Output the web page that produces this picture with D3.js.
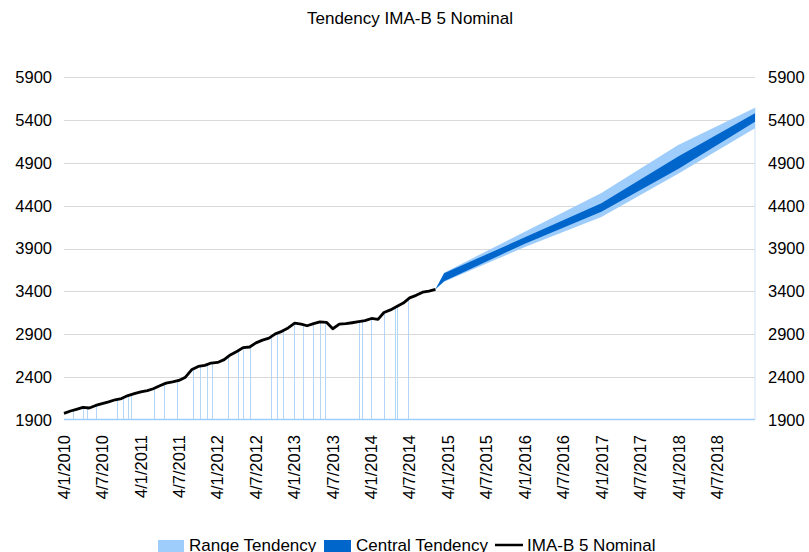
<!DOCTYPE html>
<html>
<head>
	<meta charset="utf-8">
	<script src="https://cdnjs.cloudflare.com/ajax/libs/d3/7.8.5/d3.min.js"></script>
	<style>
	body {
		margin: 0;
		background: #fff;
	}

	svg {
		display: block;
		font-family: "Liberation Sans", Arial, sans-serif;
	}

	.grid line {
		stroke: #d9d9d9;
		stroke-width: 1px;
	}

	.spike {
		stroke: #b4d6f7;
		stroke-width: 1px;
	}

	.imab {
		fill: none;
		stroke: #000;
		stroke-width: 2.8px;
		stroke-linejoin: round;
	}
</style>
</head>
<body>
	<svg width="809" height="552"></svg>
	<script>
	//IMA-B 5 history, one value per month starting 4/1/2010
	let imabStart = "2010-01-04";
	let imabValues = [
		1978, 2005, 2025, 2048, 2040, 2070, 2092, 2112, 2136, 2150, 2185, 2207,
		2228, 2242, 2265, 2300, 2330, 2345, 2362, 2400, 2490, 2525, 2538, 2565,
		2572, 2605, 2660, 2700, 2745, 2752, 2800, 2832, 2855, 2905, 2935, 2975,
		3030, 3020, 3000, 3025, 3045, 3040, 2965, 3020, 3025, 3035, 3047, 3060,
		3085, 3075, 3155, 3185, 3225, 3265, 3325, 3355, 3392, 3405, 3425
	];

	//tendency bands
	let forecastDates = ["2014-11-04", "2014-12-15", "2015-12-31", "2016-12-31", "2017-12-31", "2018-12-31"];
	let rangeHigh   = [3425, 3620, 4095, 4550, 5110, 5545];
	let centralHigh = [3425, 3612, 4030, 4430, 4975, 5480];
	let centralLow  = [3425, 3520, 3955, 4330, 4830, 5382];
	let rangeLow    = [3425, 3515, 3915, 4270, 4775, 5305];

	//stray range points showing as thin drops to the baseline
	let spikeDates = ["2010-02-14", "2010-04-06", "2010-04-25", "2010-06-05", "2010-09-11", "2010-10-13",
		"2010-11-05", "2010-11-17", "2011-03-09", "2011-04-25", "2011-06-26", "2011-09-10", "2011-10-12",
		"2011-11-13", "2011-12-07", "2012-02-21", "2012-04-11", "2012-05-05", "2012-06-06", "2012-09-12",
		"2012-10-13", "2012-11-08", "2013-01-02", "2013-02-14", "2013-04-02", "2013-05-04", "2013-05-28",
		"2013-11-05", "2013-11-21", "2014-01-01", "2014-03-06", "2014-04-25", "2014-05-03", "2014-06-25"];
	let spikeValues = [2010, 2048, 2042, 2072, 2145, 2175, 2190, 2200, 2270, 2315, 2355, 2500, 2530,
		2545, 2565, 2630, 2700, 2740, 2745, 2860, 2905, 2935, 3020, 3010, 3025, 3050, 3040,
		3050, 3055, 3085, 3150, 3210, 3220, 3310];

	//axis ticks
	let tickDates = ["2010-01-04", "2010-07-04", "2011-01-04", "2011-07-04", "2012-01-04", "2012-07-04",
		"2013-01-04", "2013-07-04", "2014-01-04", "2014-07-04", "2015-01-04", "2015-07-04",
		"2016-01-04", "2016-07-04", "2017-01-04", "2017-07-04", "2018-01-04", "2018-07-04"];
	let yTicks = [1900, 2400, 2900, 3400, 3900, 4400, 4900, 5400, 5900];

	let svg = d3.select("svg");
	let parseDate = d3.timeParse("%Y-%m-%d"),
		formatDate = d3.timeFormat("%-d/%-m/%Y");

	let light = "#9fcdfb",
		dark = "#0066cc";

	//scales
	let x = d3.scaleTime()
		.domain([parseDate("2010-01-04"), parseDate("2018-12-31")])
		.range([64, 755]);
	let y = d3.scaleLinear()
		.domain([1900, 5900])
		.range([420, 77.3]);

	//build series
	let imab = imabValues.map(function(v, i) {
		return {date: d3.timeMonth.offset(parseDate(imabStart), i), value: v};
	});
	let bands = forecastDates.map(function(d, i) {
		return {date: parseDate(d), rl: rangeLow[i], rh: rangeHigh[i], cl: centralLow[i], ch: centralHigh[i]};
	});
	let spikes = spikeDates.map(function(d, i) {
		return {date: parseDate(d), value: spikeValues[i]};
	});

	//gridlines
	svg.append("g")
		.attr("class", "grid")
		.selectAll("line")
		.data(yTicks.slice(1))
		.enter()
		.append("line")
		.attr("x1", x.range()[0])
		.attr("x2", x.range()[1])
		.attr("y1", function(d) { return Math.round(y(d)) + 0.5; })
		.attr("y2", function(d) { return Math.round(y(d)) + 0.5; });

	//spikes
	svg.append("g")
		.selectAll("line")
		.data(spikes)
		.enter()
		.append("line")
		.attr("class", "spike")
		.attr("x1", function(d) { return Math.round(x(d.date)) + 0.5; })
		.attr("x2", function(d) { return Math.round(x(d.date)) + 0.5; })
		.attr("y1", y(1900))
		.attr("y2", function(d) { return y(d.value); });

	//baseline of the range area
	svg.append("line")
		.attr("x1", x.range()[0])
		.attr("x2", x.range()[1])
		.attr("y1", y(1900) - 0.5)
		.attr("y2", y(1900) - 0.5)
		.style("stroke", light)
		.style("stroke-width", 1.5);

	//right edge of the range area
	let last = bands[bands.length - 1];
	svg.append("line")
		.attr("x1", x(last.date))
		.attr("x2", x(last.date))
		.attr("y1", y(last.rh))
		.attr("y2", y(1900))
		.style("stroke", "#cfe3f7")
		.style("stroke-width", 1);

	//range tendency
	let rangeArea = d3.area()
		.x(function(d) { return x(d.date); })
		.y0(function(d) { return y(d.rl); })
		.y1(function(d) { return y(d.rh); });
	svg.append("path")
		.datum(bands)
		.attr("d", rangeArea)
		.style("fill", light);

	//central tendency
	let centralArea = d3.area()
		.x(function(d) { return x(d.date); })
		.y0(function(d) { return y(d.cl); })
		.y1(function(d) { return y(d.ch); });
	svg.append("path")
		.datum(bands)
		.attr("d", centralArea)
		.style("fill", dark);

	//IMA-B 5 line
	let line = d3.line()
		.x(function(d) { return x(d.date); })
		.y(function(d) { return y(d.value); });
	svg.append("path")
		.datum(imab)
		.attr("class", "imab")
		.attr("d", line);

	//left and right value axes
	[{x: 52, anchor: "end"}, {x: 768, anchor: "start"}].forEach(function(side) {
		svg.append("g")
			.selectAll("text")
			.data(yTicks)
			.enter()
			.append("text")
			.attr("x", side.x)
			.attr("y", function(d) { return y(d); })
			.attr("dy", "0.35em")
			.attr("text-anchor", side.anchor)
			.style("font-size", "16.5px")
			.style("fill", "#000")
			.text(function(d) { return d; });
	});

	//date labels
	svg.append("g")
		.selectAll("text")
		.data(tickDates)
		.enter()
		.append("text")
		.attr("transform", function(d) { return "translate(" + x(parseDate(d)) + ",435) rotate(-90)"; })
		.attr("dy", "0.35em")
		.attr("text-anchor", "end")
		.style("font-size", "16.5px")
		.text(function(d) { return formatDate(parseDate(d)); });

	//title
	svg.append("text")
		.attr("x", 410)
		.attr("y", 24)
		.attr("text-anchor", "middle")
		.style("font-size", "17px")
		.text("Tendency IMA-B 5 Nominal");

	//legend
	let legend = svg.append("g").style("font-size", "17px");
	legend.append("rect").attr("x", 158).attr("y", 540).attr("width", 26).attr("height", 12).style("fill", light);
	legend.append("text").attr("x", 189).attr("y", 551).text("Range Tendency");
	legend.append("rect").attr("x", 324).attr("y", 540).attr("width", 27).attr("height", 12).style("fill", dark);
	legend.append("text").attr("x", 356).attr("y", 551).text("Central Tendency");
	legend.append("line").attr("x1", 495).attr("x2", 523).attr("y1", 545).attr("y2", 545)
		.style("stroke", "#000").style("stroke-width", 2.5);
	legend.append("text").attr("x", 527).attr("y", 551).text("IMA-B 5 Nominal");

	</script>
</body>
</html>
